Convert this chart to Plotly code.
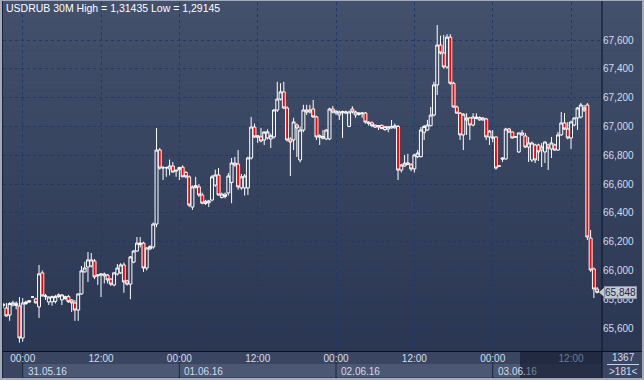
import plotly.graph_objects as go
import pandas as pd

# ---------------- data (USDRUB, 30-minute bars) ----------------
opens = [65.765, 65.739, 65.690, 65.760, 65.772, 65.753, 65.531, 65.770, 65.790, 65.815,
         65.802, 65.747, 65.983, 65.818, 65.781, 65.782, 65.785, 65.830, 65.796, 65.805,
         65.818, 65.795, 65.774, 65.725, 65.837, 65.990, 66.024, 66.031, 66.066, 65.962,
         65.968, 65.962, 65.968, 65.940, 65.899, 65.975, 65.983, 66.038, 65.927, 65.905,
         66.058, 66.135, 66.180, 66.190, 66.017, 66.150, 66.163, 66.322, 66.836, 66.715,
         66.712, 66.705, 66.725, 66.690, 66.700, 66.717, 66.680, 66.650, 66.440, 66.590,
         66.580, 66.524, 66.465, 66.470, 66.489, 66.593, 66.663, 66.507, 66.530, 66.538,
         66.611, 66.746, 66.739, 66.573, 66.573, 66.573, 66.781, 66.996, 66.925, 66.927,
         66.906, 66.920, 66.913, 66.927, 67.114, 67.190, 67.240, 67.128, 66.913, 66.906,
         67.010, 66.767, 66.975, 67.114, 67.100, 67.121, 67.066, 66.925, 66.918, 66.913,
         66.913, 67.121, 67.094, 67.079, 67.095, 67.093, 67.000, 67.121, 67.080, 67.083,
         67.088, 67.093, 67.030, 67.025, 66.995, 66.996, 67.008, 66.978, 66.982, 66.990,
         66.990, 67.000, 66.697, 66.725, 66.747, 66.733, 66.705, 66.790, 66.790, 66.960,
         66.975, 67.005, 67.079, 67.288, 67.565, 67.510, 67.413, 67.620, 67.300, 67.135,
         67.092, 66.941, 67.045, 67.059, 67.010, 67.055, 67.062, 67.045, 67.052, 66.927,
         66.927, 66.927, 66.725, 66.781, 66.774, 66.982, 66.961, 66.927, 66.823, 66.955,
         66.934, 66.857, 66.767, 66.871, 66.871, 66.836, 66.823, 66.871, 66.843, 66.871,
         66.836, 66.941, 67.024, 66.982, 66.920, 67.010, 67.059, 67.065, 67.114, 67.149,
         66.225, 66.010, 65.871]
highs = [65.775, 65.774, 65.780, 65.790, 65.785, 65.815, 65.808, 65.790, 65.795, 65.818,
         65.810, 66.038, 66.000, 65.837, 65.820, 65.825, 65.830, 65.840, 65.835, 65.825,
         65.830, 65.800, 65.795, 65.840, 66.031, 66.060, 66.128, 66.121, 66.080, 65.975,
         65.980, 65.985, 65.975, 65.945, 65.990, 66.045, 66.050, 66.055, 65.935, 66.100,
         66.140, 66.232, 66.232, 66.200, 66.160, 66.175, 66.333, 66.989, 66.850, 66.725,
         66.720, 66.770, 66.753, 66.700, 66.720, 66.730, 66.690, 66.660, 66.590, 66.650,
         66.600, 66.540, 66.490, 66.490, 66.663, 66.700, 66.711, 66.540, 66.540, 66.677,
         66.781, 66.788, 66.836, 66.670, 66.670, 66.790, 67.066, 67.020, 66.940, 66.990,
         66.950, 66.980, 66.950, 67.120, 67.310, 67.300, 67.310, 67.140, 66.925, 67.060,
         67.020, 67.000, 67.150, 67.150, 67.150, 67.184, 67.075, 66.945, 66.975, 66.980,
         67.130, 67.142, 67.110, 67.110, 67.110, 67.110, 67.110, 67.140, 67.110, 67.100,
         67.100, 67.100, 67.035, 67.035, 67.010, 67.010, 67.012, 67.000, 67.000, 67.045,
         67.020, 67.010, 66.740, 66.802, 66.810, 66.745, 66.810, 66.836, 66.996, 67.010,
         67.045, 67.135, 67.310, 67.704, 67.630, 67.635, 67.640, 67.640, 67.310, 67.145,
         67.100, 67.092, 67.092, 67.065, 67.092, 67.092, 67.070, 67.065, 67.060, 66.975,
         66.975, 66.930, 66.728, 66.785, 66.990, 66.990, 66.965, 66.930, 66.955, 66.975,
         66.955, 66.927, 66.895, 66.880, 66.880, 66.885, 66.895, 66.880, 66.927, 66.880,
         66.962, 67.100, 67.093, 67.030, 67.040, 67.060, 67.135, 67.163, 67.149, 67.163,
         66.281, 66.020, 65.885]
lows = [65.738, 65.680, 65.650, 65.750, 65.730, 65.498, 65.505, 65.760, 65.775, 65.812,
        65.770, 65.670, 65.820, 65.795, 65.760, 65.755, 65.770, 65.810, 65.760, 65.795,
        65.775, 65.712, 65.650, 65.650, 65.830, 65.985, 65.920, 66.020, 65.940, 65.900,
        65.815, 65.910, 65.910, 65.892, 65.890, 65.965, 65.975, 65.845, 65.895, 65.800,
        66.050, 66.130, 66.160, 65.990, 66.000, 66.140, 66.150, 66.300, 66.700, 66.628,
        66.650, 66.660, 66.690, 66.650, 66.628, 66.650, 66.640, 66.440, 66.420, 66.570,
        66.510, 66.460, 66.455, 66.440, 66.480, 66.580, 66.520, 66.500, 66.500, 66.520,
        66.467, 66.720, 66.560, 66.560, 66.520, 66.524, 66.770, 66.920, 66.885, 66.890,
        66.871, 66.910, 66.850, 66.915, 67.100, 67.180, 67.120, 66.895, 66.656, 66.836,
        66.788, 66.750, 66.960, 67.080, 67.090, 67.060, 66.906, 66.871, 66.910, 66.905,
        66.905, 67.090, 67.080, 67.045, 66.920, 67.085, 66.995, 67.090, 67.060, 67.075,
        67.060, 67.020, 67.005, 66.995, 66.990, 66.975, 66.985, 66.970, 66.960, 66.985,
        66.985, 66.628, 66.680, 66.720, 66.735, 66.690, 66.680, 66.780, 66.785, 66.906,
        66.970, 67.000, 67.070, 67.218, 67.500, 67.400, 67.400, 67.290, 67.130, 67.090,
        66.906, 66.836, 66.941, 66.906, 67.000, 67.050, 67.040, 67.040, 66.906, 66.871,
        66.890, 66.700, 66.722, 66.753, 66.770, 66.955, 66.915, 66.924, 66.815, 66.935,
        66.850, 66.753, 66.753, 66.746, 66.760, 66.718, 66.746, 66.697, 66.781, 66.830,
        66.830, 66.935, 66.975, 66.910, 66.843, 67.000, 66.975, 67.055, 67.100, 66.211,
        65.990, 65.808, 65.840]
closes = [65.758, 65.684, 65.770, 65.775, 65.757, 65.531, 65.774, 65.780, 65.781, 65.816,
          65.775, 65.976, 65.823, 65.823, 65.815, 65.818, 65.818, 65.818, 65.830, 65.818,
          65.783, 65.775, 65.725, 65.837, 65.997, 66.017, 66.073, 66.073, 65.955, 65.968,
          65.975, 65.975, 65.934, 65.905, 65.983, 66.017, 66.038, 65.920, 65.905, 66.094,
          66.135, 66.190, 66.190, 66.017, 66.156, 66.165, 66.322, 66.836, 66.711, 66.712,
          66.715, 66.725, 66.683, 66.695, 66.715, 66.650, 66.650, 66.454, 66.580, 66.575,
          66.524, 66.467, 66.480, 66.483, 66.650, 66.663, 66.524, 66.530, 66.513, 66.656,
          66.746, 66.732, 66.580, 66.650, 66.656, 66.781, 66.996, 66.927, 66.935, 66.899,
          66.962, 66.962, 66.935, 67.114, 67.190, 67.240, 67.128, 66.906, 66.892, 67.031,
          66.989, 66.975, 67.114, 67.100, 67.114, 67.066, 66.927, 66.935, 66.930, 66.975,
          67.121, 67.100, 67.107, 67.100, 67.103, 67.100, 67.100, 67.100, 67.100, 67.093,
          67.093, 67.030, 67.020, 67.005, 67.010, 67.005, 66.985, 66.998, 66.998, 67.000,
          67.005, 66.697, 66.732, 66.745, 66.735, 66.705, 66.802, 66.815, 66.975, 67.000,
          67.010, 67.079, 67.288, 67.565, 67.510, 67.413, 67.620, 67.300, 67.135, 67.092,
          66.941, 67.085, 67.059, 67.010, 67.065, 67.065, 67.045, 67.058, 66.927, 66.968,
          66.920, 66.711, 66.725, 66.774, 66.982, 66.961, 66.920, 66.927, 66.955, 66.941,
          66.857, 66.885, 66.885, 66.767, 66.823, 66.857, 66.892, 66.850, 66.885, 66.836,
          66.941, 67.024, 66.982, 66.920, 67.031, 67.059, 67.128, 67.149, 67.128, 66.232,
          66.003, 65.871, 65.848]
times = pd.date_range("2016-05-30 21:00", periods=len(opens), freq="30min")

y_ticks = [65.6, 65.8, 66.0, 66.2, 66.4, 66.6, 66.8, 67.0, 67.2, 67.4, 67.6]
x_tick_times = list(pd.date_range("2016-05-31 00:00", "2016-06-03 12:00", freq="12h"))
x_tick_text = ["00:00", "12:00", "00:00", "12:00", "00:00", "12:00", "00:00",
               "<span style='color:#6c7a96'>12:00</span>"]
day_starts = ["2016-05-31 00:00", "2016-06-01 00:00", "2016-06-02 00:00", "2016-06-03 00:00"]
day_labels = ["31.05.16", "01.06.16", "02.06.16", "03.06.<span style='color:#76839e'>16</span>"]
title_text = "USDRUB 30M High = 1,31435 Low = 1,29145"
corner_top = "1367"
corner_bottom = ">181<"

X_RANGE = ["2016-05-30 20:58:55", "2016-06-03 16:44:38"]
Y_RANGE = [65.4406, 67.864]

# ---------------- geometry helpers (pixels -> paper) ----------------
W, H = 644, 380
ML, MR, MT, MB = 3, 42, 2, 29
PW, PH = W - ML - MR, H - MT - MB
BOT = H - MB  # 351


def px(xp):
    return (xp - ML) / PW


def py(yp):
    return (BOT - yp) / PH


FONT = "Liberation Sans, Arial, sans-serif"

fig = go.Figure()
fig.add_trace(go.Candlestick(
    x=times, open=opens, high=highs, low=lows, close=closes,
    increasing=dict(line=dict(color="#ffffff", width=1), fillcolor="rgba(0,0,0,0)"),
    decreasing=dict(line=dict(color="#ffffff", width=1), fillcolor="#ff0000"),
    whiskerwidth=0, showlegend=False, hoverinfo="skip",
))

shapes = []
# vertical gradient background
top_c = (67, 81, 109)
bot_c = (42, 54, 82)
N = 70
for k in range(N):
    y0p = BOT * k / N
    y1p = BOT * (k + 1) / N
    t = (k + 0.5) / N
    c = tuple(int(round(top_c[j] + (bot_c[j] - top_c[j]) * t)) for j in range(3))
    shapes.append(dict(type="rect", xref="paper", yref="paper", layer="below",
                       x0=px(0), x1=px(W), y0=py(y1p + 0.5), y1=py(y0p),
                       fillcolor="rgb(%d,%d,%d)" % c, line=dict(width=0)))
# x-axis strip
shapes.append(dict(type="rect", xref="paper", yref="paper", layer="below",
                   x0=px(0), x1=px(W), y0=py(H), y1=py(BOT),
                   fillcolor="#3a4661", line=dict(width=0)))
# date bands
band_ends = day_starts[1:] + [X_RANGE[1]]
for s, e in zip(day_starts, band_ends):
    shapes.append(dict(type="rect", xref="x", yref="paper", layer="below",
                       x0=s, x1=e, y0=py(377), y1=py(364),
                       fillcolor="#4b5773", line=dict(width=0)))
    shapes.append(dict(type="line", xref="x", yref="paper", layer="below",
                       x0=s, x1=s, y0=py(378), y1=py(352),
                       line=dict(color="#1c2740", width=1)))
# dark overlay at bottom right
shapes.append(dict(type="rect", xref="paper", yref="paper", layer="below",
                   x0=px(520), x1=px(602), y0=py(378), y1=py(352),
                   fillcolor="rgba(24,32,52,0.72)", line=dict(width=0)))
# frame lines
shapes.append(dict(type="line", xref="paper", yref="paper", layer="above",
                   x0=px(0), x1=px(W), y0=py(351.5), y1=py(351.5),
                   line=dict(color="#0b1222", width=1)))
shapes.append(dict(type="line", xref="paper", yref="paper", layer="above",
                   x0=px(602), x1=px(602), y0=py(H), y1=py(0),
                   line=dict(color="#0b1222", width=1)))
shapes.append(dict(type="line", xref="paper", yref="paper", layer="above",
                   x0=px(2.5), x1=px(2.5), y0=py(H), y1=py(0),
                   line=dict(color="#1a2238", width=1)))
# outer light frame
for (x0, x1, y0, y1) in [(0, 2, 0, H), (642, W, 0, H), (0, W, 378, H), (0, W, 0, 1)]:
    shapes.append(dict(type="rect", xref="paper", yref="paper", layer="above",
                       x0=px(x0), x1=px(x1), y0=py(y1), y1=py(y0),
                       fillcolor="#a3abba", line=dict(width=0)))
# corner separator line
shapes.append(dict(type="line", xref="paper", yref="paper", layer="above",
                   x0=px(607), x1=px(639), y0=py(364.5), y1=py(364.5),
                   line=dict(color="#c9d2e4", width=1)))
# last price pointer
last = closes[-1]
dv = 4 * (Y_RANGE[1] - Y_RANGE[0]) / PH
shapes.append(dict(type="path", xref="paper", yref="y", layer="above",
                   path="M %f,%f L %f,%f L %f,%f Z" % (px(599.5), last, px(604), last + dv, px(604), last - dv),
                   fillcolor="#c4c8d0", line=dict(color="#c4c8d0", width=1)))

annotations = [
    dict(text=title_text, xref="paper", yref="paper", x=px(4), y=py(8.5),
         xanchor="left", yanchor="middle", showarrow=False,
         font=dict(family=FONT, size=10.5, color="#ffffff")),
    dict(text=corner_top, xref="paper", yref="paper", x=px(623), y=py(357.5),
         xanchor="center", yanchor="middle", showarrow=False,
         font=dict(family=FONT, size=10, color="#d4dcec")),
    dict(text=corner_bottom, xref="paper", yref="paper", x=px(623), y=py(371),
         xanchor="center", yanchor="middle", showarrow=False,
         font=dict(family=FONT, size=10, color="#d4dcec")),
    dict(text=("%.3f" % last).replace(".", ","), xref="paper", yref="y",
         x=px(603.5), y=last, xanchor="left", yanchor="middle", showarrow=False,
         bgcolor="#c4c8d0", bordercolor="#8e95a5", borderwidth=1, borderpad=0,
         font=dict(family=FONT, size=10, color="#1b2745")),
]
for s, lab in zip(day_starts, day_labels):
    annotations.append(dict(text=lab, xref="x", yref="paper", x=s, xshift=3,
                            y=py(371), xanchor="left", yanchor="middle", showarrow=False,
                            font=dict(family=FONT, size=10, color="#d4dcec")))

fig.update_layout(
    width=W, height=H,
    margin=dict(l=ML, r=MR, t=MT, b=MB, pad=0),
    paper_bgcolor="#3a4661", plot_bgcolor="rgba(0,0,0,0)",
    separators=",.",
    showlegend=False,
    boxgap=0.1, boxgroupgap=0,
    shapes=shapes, annotations=annotations,
    font=dict(family=FONT, size=10, color="#d4dcec"),
    xaxis=dict(type="date", range=X_RANGE, rangeslider=dict(visible=False),
               tickvals=x_tick_times, ticktext=x_tick_text,
               showgrid=True, gridcolor="#1d3a6c", gridwidth=1, griddash="3px,3px",
               zeroline=False, showline=False, ticks="", fixedrange=True,
               tickfont=dict(family=FONT, size=10, color="#d4dcec")),
    yaxis=dict(range=Y_RANGE, side="right", tickvals=y_ticks, tickformat=".3f",
               showgrid=True, gridcolor="#1d3a6c", gridwidth=1, griddash="3px,3px",
               zeroline=False, showline=False, ticks="", fixedrange=True,
               tickfont=dict(family=FONT, size=10, color="#d4dcec")),
)

fig.write_html(
    "out.html",
    config={"displayModeBar": False, "staticPlot": True},
    post_script="document.body.style.margin='0';document.body.style.padding='0';document.body.style.overflow='hidden';",
)
